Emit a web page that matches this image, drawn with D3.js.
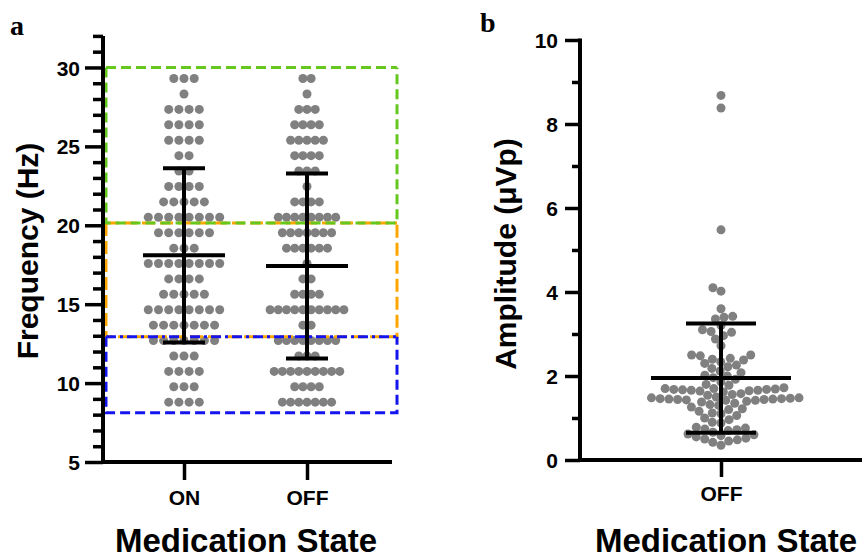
<!DOCTYPE html>
<html><head><meta charset="utf-8">
<script src="https://cdn.jsdelivr.net/npm/d3@7"></script>
<style>
body{margin:0;background:#fff}
svg{display:block}
text{font-family:"Liberation Sans",Arial,sans-serif;font-weight:bold;fill:#000}
</style>
</head><body>
<svg id="c" width="862" height="558"></svg>
<script>
// ---------- Panel a data ----------
const groupsA = ["ON", "OFF"];
const freqBins = [29.30,28.32,27.34,26.37,25.39,24.41,23.44,22.46,21.48,20.51,19.53,18.55,17.58,16.60,15.63,14.65,13.67,12.70,11.72,10.74,9.77,8.79];
const countsOn  = [3,1,4,4,4,2,2,4,5,8,6,3,8,4,5,8,7,7,3,4,3,4];
const countsOff = [2,1,3,4,5,4,3,1,4,8,7,6,1,2,4,10,2,8,3,9,4,7];
const meanA = [18.1, 17.42];
const sdA = [5.52, 5.86];
const bandNames = ["alpha", "low beta", "high beta"];
const bandLow  = [8.12, 12.93, 20.15];
const bandHigh = [12.93, 20.15, 30];
const yTicksA = [5, 10, 15, 20, 25, 30];

// ---------- Panel b data ----------
const groupsB = ["OFF"];
const amplitudes = [8.68,8.38,5.48,
4.10,4.02,3.60,3.42,3.40,3.36,3.20,3.10,3.06,3.04,2.96,2.88,2.72,
2.50,2.50,2.48,2.42,2.40,2.38,2.34,2.30,2.26,2.22,2.18,2.12,2.08,2.02,2.00,1.96,1.92,1.86,1.80,1.78,
1.72,1.70,1.70,1.69,1.68,1.68,1.67,1.66,1.66,1.65,1.64,1.62,1.58,1.56,1.54,
1.50,1.48,1.48,1.47,1.46,1.46,1.45,1.45,1.44,1.44,1.43,1.42,1.42,1.40,1.38,1.35,
1.32,1.30,1.26,1.22,1.20,1.16,1.12,1.10,1.06,1.00,0.96,0.90,0.88,
0.78,0.76,0.74,0.72,0.70,0.66,0.62,0.60,0.58,0.55,0.52,0.50,0.48,0.45,0.42,0.35];
const meanB = [1.95];
const sdB = [1.30];
const yTicksB = [0, 2, 4, 6, 8, 10];

// ---------- drawing ----------
const svg = d3.select("#c");
const DOT = "#808080", R = 4.5;

// ===== Panel a =====
const yA = d3.scaleLinear().domain([5, 32]).range([462, 35.9]);
const xA = d3.scalePoint().domain(groupsA).range([184, 307]);
const axL = 103, axR = 392, boxR = 397;
const spacing = {ON: 10.2, OFF: 8.2};

const gA = svg.append("g");
const ptsA = [];
[countsOn, countsOff].forEach((counts, gi) => {
  const g = groupsA[gi];
  counts.forEach((n, i) => {
    for (let k = 0; k < n; k++) {
      ptsA.push({g, v: freqBins[i], off: (k - (n - 1) / 2) * spacing[g]});
    }
  });
});
gA.selectAll("circle.dot").data(ptsA).join("circle")
  .attr("cx", d => xA(d.g) + d.off).attr("cy", d => yA(d.v)).attr("r", R).attr("fill", DOT);

// band boxes
const bandColors = {"alpha": "#1414ee", "low beta": "#ffa500", "high beta": "#66c81e"};
const drawOrder = [1, 2, 0];
drawOrder.forEach(i => {
  const name = bandNames[i], col = bandColors[name];
  const yT = yA(bandHigh[i]), yB = yA(bandLow[i]);
  const dash = name === "low beta" ? "13,5" : "10,5";
  const g = gA.append("g").attr("fill", "none").attr("stroke", col).attr("stroke-width", 3);
  g.append("path").attr("d", `M${axL + 3},${yT} V${yB} H${boxR} V${yT}`).attr("stroke-dasharray", dash);
  g.append("path").attr("d", `M${axL + 3},${yT} H${boxR}`)
    .attr("stroke-dasharray", name === "alpha" ? "10,4,3,4" : dash);
});

// error bars
groupsA.forEach((g, i) => {
  const cx = xA(g), m = meanA[i], s = sdA[i];
  const eg = gA.append("g").attr("stroke", "#000").attr("stroke-width", 4);
  eg.append("line").attr("x1", cx).attr("x2", cx).attr("y1", yA(m - s)).attr("y2", yA(m + s));
  eg.append("line").attr("x1", cx - 21).attr("x2", cx + 21).attr("y1", yA(m + s)).attr("y2", yA(m + s));
  eg.append("line").attr("x1", cx - 21).attr("x2", cx + 21).attr("y1", yA(m - s)).attr("y2", yA(m - s));
  eg.append("line").attr("x1", cx - 41).attr("x2", cx + 41).attr("y1", yA(m)).attr("y2", yA(m));
});

// y axis a
const minorA = d3.range(5, 33).filter(v => v % 5 !== 0);
const yAxMinor = gA.append("g").attr("transform", `translate(${axL},0)`)
  .call(d3.axisLeft(yA).tickValues(minorA).tickSize(10).tickSizeOuter(0).tickFormat(""));
const yAxMajor = gA.append("g").attr("transform", `translate(${axL},0)`)
  .call(d3.axisLeft(yA).tickValues(yTicksA).tickSize(18).tickSizeOuter(0).tickPadding(5));
[yAxMinor, yAxMajor].forEach(a => {
  a.select(".domain").attr("stroke-width", 4);
  a.selectAll(".tick line").attr("stroke-width", 3.5);
});
yAxMajor.selectAll(".tick text").style("font-size", "21px").attr("dy", "0.36em");
yAxMinor.select(".domain").attr("d", `M0,${yA(32)}V${yA(5) + 2}`);
yAxMajor.select(".domain").remove();

// x axis a
const xAxA = gA.append("g").attr("transform", `translate(0,${yA(5)})`)
  .call(d3.axisBottom(xA).tickSize(18).tickSizeOuter(0).tickPadding(10));
xAxA.select(".domain").attr("d", `M${axL - 2},0H${axR}`).attr("stroke-width", 4);
xAxA.selectAll(".tick line").attr("stroke-width", 3.5);
xAxA.selectAll(".tick text").style("font-size", "21px");

gA.append("text").attr("transform", "translate(38,251) rotate(-90)")
  .attr("text-anchor", "middle").style("font-size", "30px").text("Frequency (Hz)");
gA.append("text").attr("x", 246).attr("y", 552).attr("text-anchor", "middle")
  .style("font-size", "33px").text("Medication State");
gA.append("text").attr("x", 10).attr("y", 35)
  .style("font-family", "'Liberation Serif','Times New Roman',serif").style("font-size", "28px").text("a");

// ===== Panel b =====
const yB = d3.scaleLinear().domain([0, 10]).range([460, 40]);
const xB = d3.scalePoint().domain(groupsB).range([721, 721]);
const bL = 580, bR = 862;
const gB = svg.append("g");

function swarm(vals, y, cx, r) {
  const d = 2 * r * 0.97;
  const pts = vals.map(v => ({v, y: y(v)})).sort((a, b) => a.v - b.v);
  const placed = [];
  pts.forEach(p => {
    const near = placed.filter(q => Math.abs(q.y - p.y) < d);
    const cands = [0];
    near.forEach(q => {
      const dx = Math.sqrt(d * d - (q.y - p.y) ** 2);
      cands.push(q.dx - dx - 0.01, q.dx + dx + 0.01);
    });
    cands.sort((a, b) => Math.abs(a) - Math.abs(b) || a - b);
    for (const c of cands) {
      if (near.every(q => (q.dx - c) ** 2 + (q.y - p.y) ** 2 >= d * d - 0.05)) { p.dx = c; break; }
    }
    placed.push(p);
  });
  return placed.map(p => ({v: p.v, x: cx + p.dx, y: p.y}));
}
const ptsB = swarm(amplitudes, yB, xB("OFF"), R);
gB.selectAll("circle").data(ptsB).join("circle")
  .attr("cx", d => d.x).attr("cy", d => d.y).attr("r", R).attr("fill", DOT);

{
  const cx = xB("OFF"), m = meanB[0], s = sdB[0];
  const eg = gB.append("g").attr("stroke", "#000").attr("stroke-width", 4);
  eg.append("line").attr("x1", cx).attr("x2", cx).attr("y1", yB(m - s)).attr("y2", yB(m + s));
  eg.append("line").attr("x1", cx - 35).attr("x2", cx + 35).attr("y1", yB(m + s)).attr("y2", yB(m + s));
  eg.append("line").attr("x1", cx - 35).attr("x2", cx + 35).attr("y1", yB(m - s)).attr("y2", yB(m - s));
  eg.append("line").attr("x1", cx - 70).attr("x2", cx + 70).attr("y1", yB(m)).attr("y2", yB(m));
}

const yBMinor = gB.append("g").attr("transform", `translate(${bL},0)`)
  .call(d3.axisLeft(yB).tickValues([1, 3, 5, 7, 9]).tickSize(8).tickSizeOuter(0).tickFormat(""));
const yBMajor = gB.append("g").attr("transform", `translate(${bL},0)`)
  .call(d3.axisLeft(yB).tickValues(yTicksB).tickSize(15).tickSizeOuter(0).tickPadding(7));
[yBMinor, yBMajor].forEach(a => a.selectAll(".tick line").attr("stroke-width", 3.5));
yBMinor.select(".domain").attr("d", `M0,${yB(10) - 1.5}V${yB(0) + 2}`).attr("stroke-width", 4);
yBMajor.select(".domain").remove();
yBMajor.selectAll(".tick text").style("font-size", "21px").attr("dy", "0.36em");

const xAxB = gB.append("g").attr("transform", `translate(0,${yB(0)})`)
  .call(d3.axisBottom(xB).tickSize(17).tickSizeOuter(0).tickPadding(9));
xAxB.select(".domain").attr("d", `M${bL - 2},0H${bR}`).attr("stroke-width", 4);
xAxB.selectAll(".tick line").attr("stroke-width", 3.5);
xAxB.selectAll(".tick text").style("font-size", "21px");

gB.append("text").attr("transform", "translate(516,254) rotate(-90)")
  .attr("text-anchor", "middle").style("font-size", "30px").text("Amplitude (μVp)");
gB.append("text").attr("x", 726).attr("y", 552).attr("text-anchor", "middle")
  .style("font-size", "33px").text("Medication State");
gB.append("text").attr("x", 480).attr("y", 32)
  .style("font-family", "'Liberation Serif','Times New Roman',serif").style("font-size", "28px").text("b");
</script>
</body></html>
